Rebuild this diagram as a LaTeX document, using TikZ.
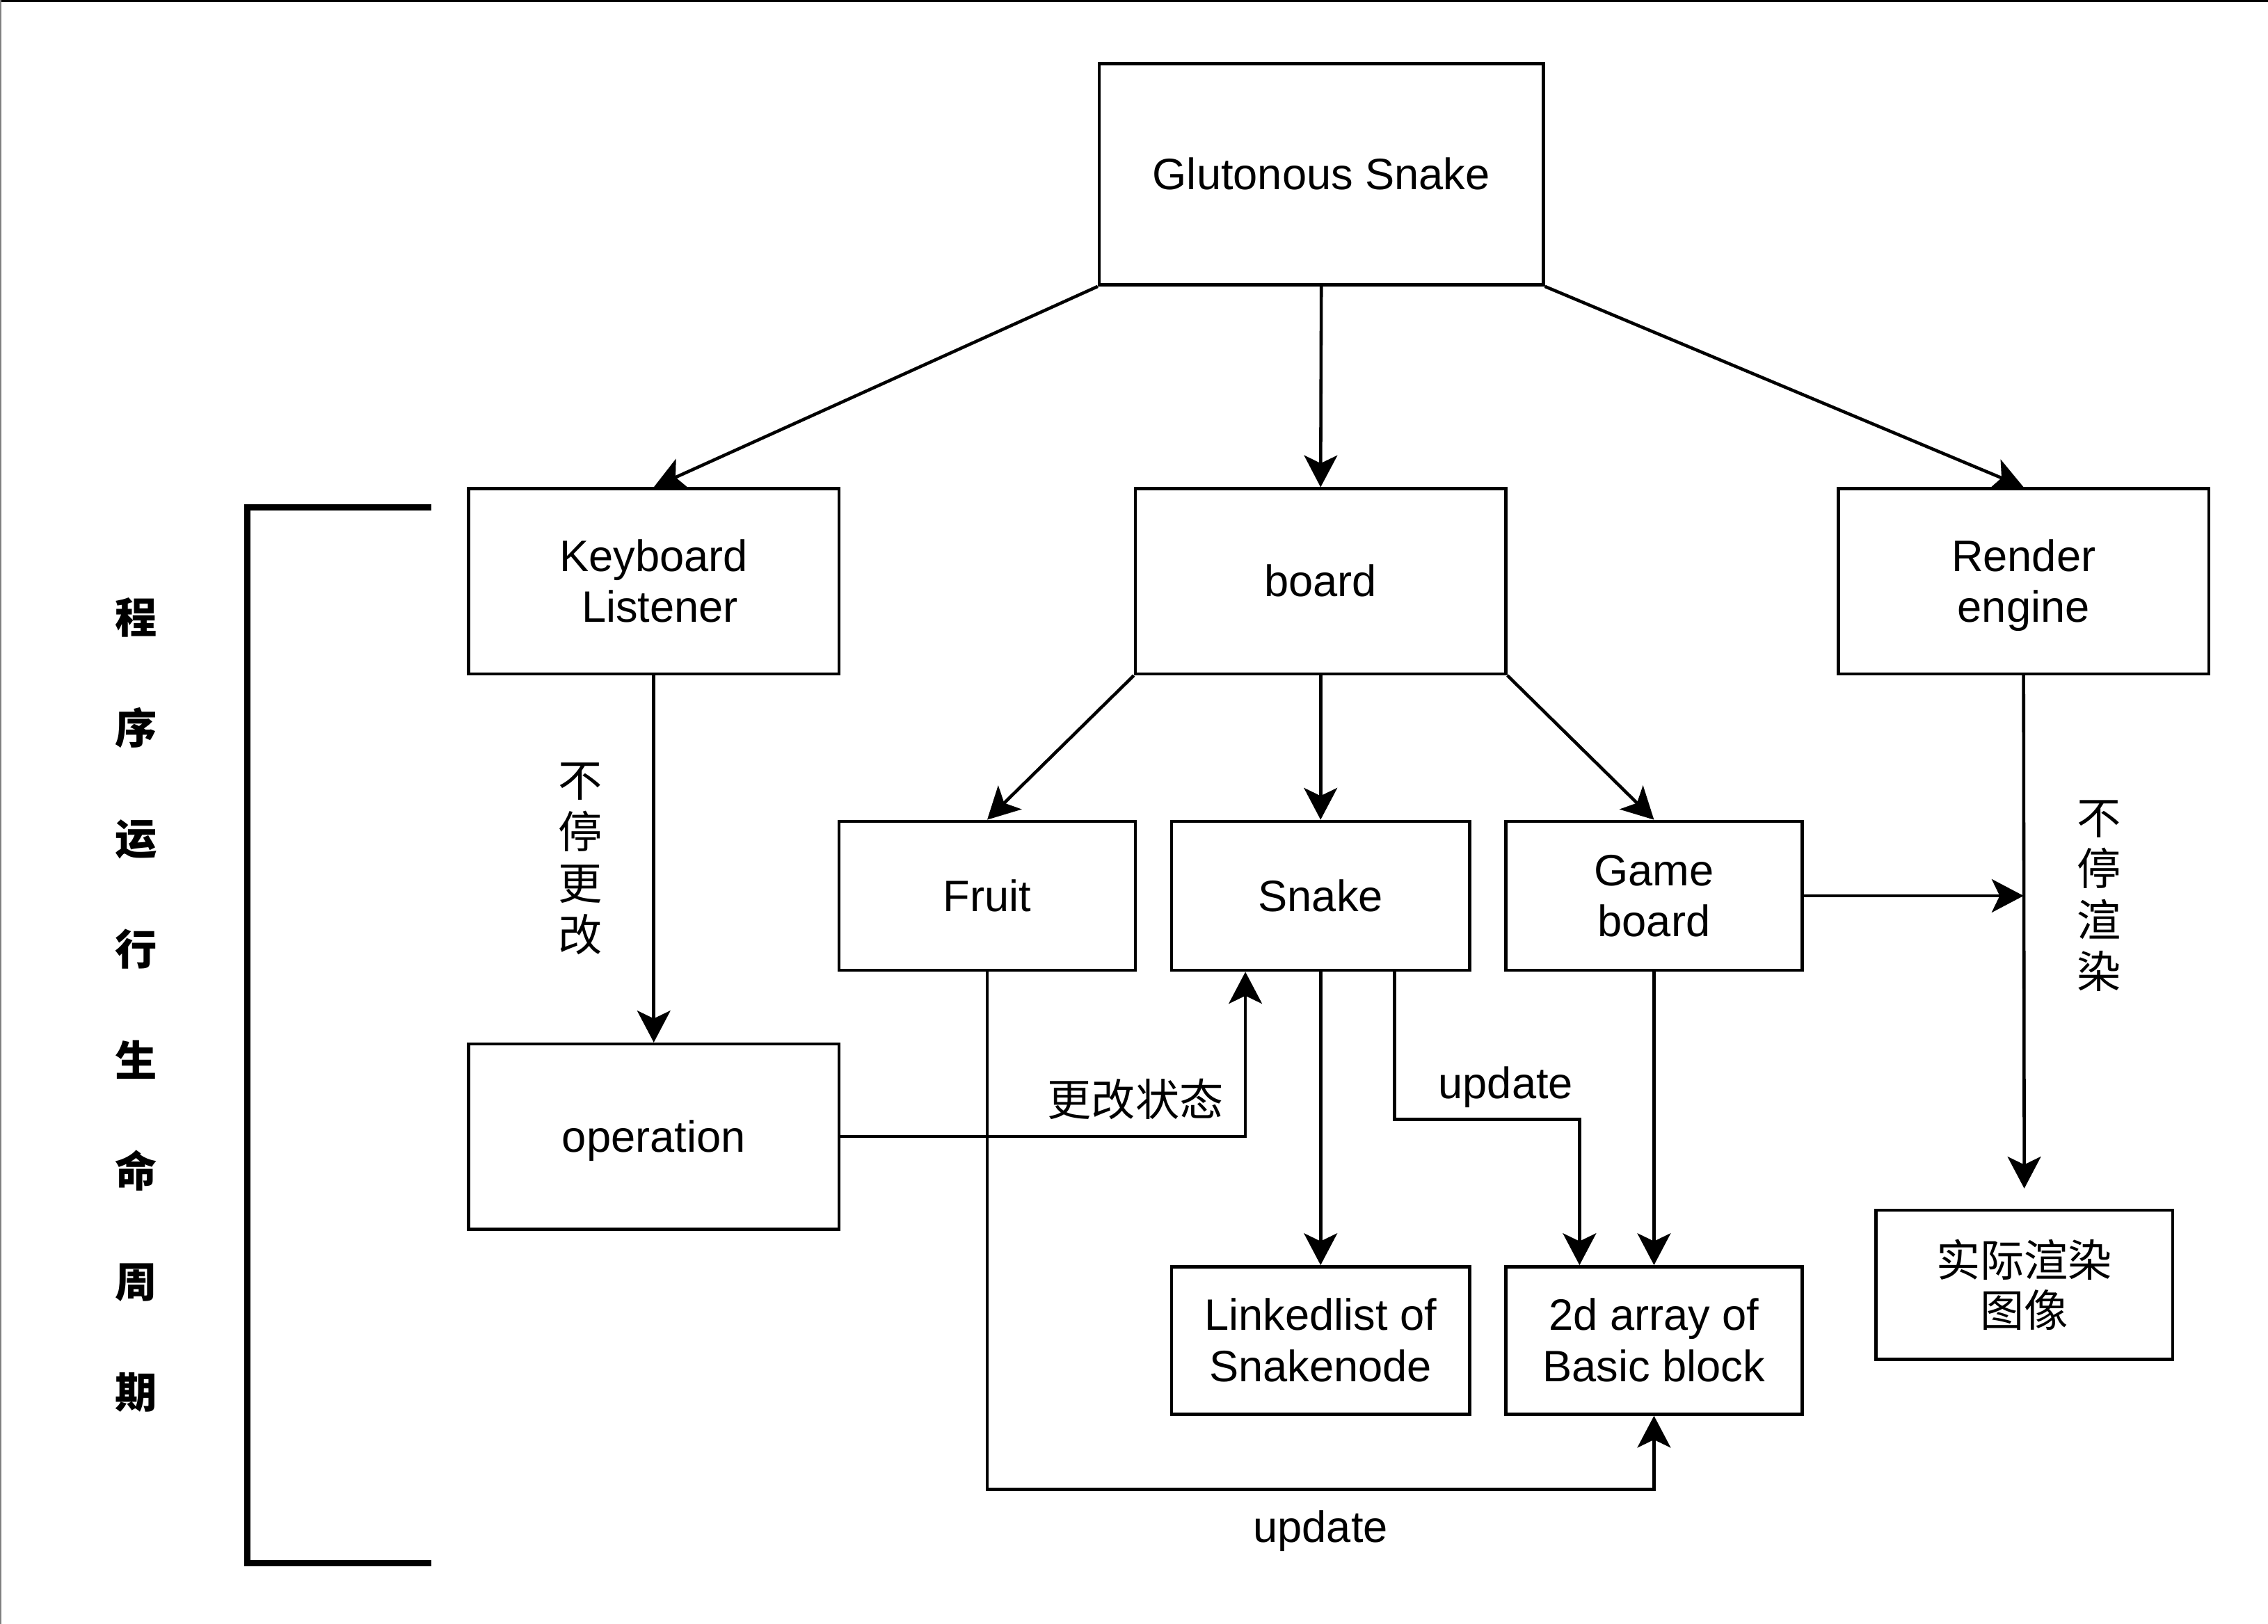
\documentclass[tikz,border=0pt]{standalone}
\usepackage{fontspec}
\setmainfont{Liberation Sans}
\newfontfamily\cjk{Noto Sans CJK SC}
\usetikzlibrary{arrows.meta}
\newcommand\sa{\rule{0pt}{28.9pt}}
\newcommand\sd{\rule[-7.6pt]{0pt}{7.6pt}}
\begin{document}
\begin{tikzpicture}[x=1pt,y=-1pt,
  box/.style={draw, line width=2.2pt, inner sep=0pt, align=center, font=\fontsize{30.4}{35.4}\selectfont},
  cbox/.style={draw, line width=2.2pt, inner sep=0pt, align=center, font=\cjk\fontsize{30.4}{35}\selectfont},
  conn/.style={line width=2.2pt, -{Stealth[length=22pt,width=23pt,inset=5.5pt]}},
  lbl/.style={inner sep=0pt, align=center, font=\fontsize{30.4}{35}\selectfont},
  clbl/.style={inner sep=0pt, align=center, font=\cjk\fontsize{30.4}{35.5}\selectfont}]
\useasboundingbox (0,0) rectangle (1568,1123);
\fill[white] (0,0) rectangle (1568,1123);
\draw[line width=1.5pt] (0,0.75) -- (1568,0.75);
\draw[gray, line width=1pt] (0.5,0) -- (0.5,1123);

% boxes
\node[box, minimum width=307pt, minimum height=153pt] (g) at (913.5,120.5) {\sa Glutonous Snake\sd};
\node[box, minimum width=256pt, minimum height=128pt] (kl) at (452,402) {\sa Keyboard\\\hspace*{0.278em}Listener\sd};
\node[box, minimum width=256pt, minimum height=128pt] (bd) at (913,402) {\sa board\sd};
\node[box, minimum width=256pt, minimum height=128pt] (re) at (1399,402) {\sa Render\\engine\sd};
\node[box, minimum width=205pt, minimum height=103pt] (fr) at (682.5,619.5) {\sa Fruit\sd};
\node[box, minimum width=206pt, minimum height=103pt] (sn) at (913,619.5) {\sa Snake\sd};
\node[box, minimum width=205pt, minimum height=103pt] (gb) at (1143.5,619.5) {\sa Game\\board\sd};
\node[box, minimum width=256pt, minimum height=128pt] (op) at (452,786) {\sa operation\sd};
\node[box, minimum width=206pt, minimum height=102pt] (ll) at (913,927) {\sa Linkedlist of\\Snakenode\sd};
\node[box, minimum width=205pt, minimum height=102pt] (arr) at (1143.5,927) {\sa 2d array of\\Basic block\sd};
\node[cbox, minimum width=205pt, minimum height=103pt] (img) at (1399.5,888.5) {实际渲染\\图像};

% connectors
\draw[conn] (g.south west) -- (kl.north);
\draw[conn] (g.south) -- (bd.north);
\draw[conn] (g.south east) -- (re.north);
\draw[conn] (kl.south) -- (op.north);
\node[clbl] (l1) at (401,594) {不\\停\\更\\改};
\draw[conn] (bd.south west) -- (fr.north);
\draw[conn] (bd.south) -- (sn.north);
\draw[conn] (bd.south east) -- (gb.north);
\draw[conn, shorten >=14pt] (re.south) -- (img.north);
\node[clbl] (l2) at (1451,619.5) {不\\停\\渲\\染};
\coordinate (m) at (re.south |- gb.east);
\draw[conn] (gb.east) -- (m);
\draw[conn] (op.east) -| ([xshift=-52pt]sn.south);
\node[clbl] (l3) at (785,760) {更改状态};
\draw[conn] (sn.south) -- (ll.north);
\draw[conn] ([xshift=51pt]sn.south) -- ++(0,102) -| ([xshift=-51.5pt]arr.north);
\node[lbl] (l4) at (1041,749) {\sa update\sd};
\draw[conn] (gb.south) -- (arr.north);
\draw[conn] (fr.south) -- ++(0,358) -| (arr.south);
\node[lbl] (l5) at (913,1056) {\sa update\sd};

% bracket
\draw[line width=4.5pt] (298,351) -- (171,351) -- (171,1081) -- (298,1081);
\node[inner sep=0pt, align=center, font=\cjk\bfseries\fontsize{29}{76.6}\selectfont] (side) at (94,695) {程\\序\\运\\行\\生\\命\\周\\期};
\end{tikzpicture}
\end{document}
